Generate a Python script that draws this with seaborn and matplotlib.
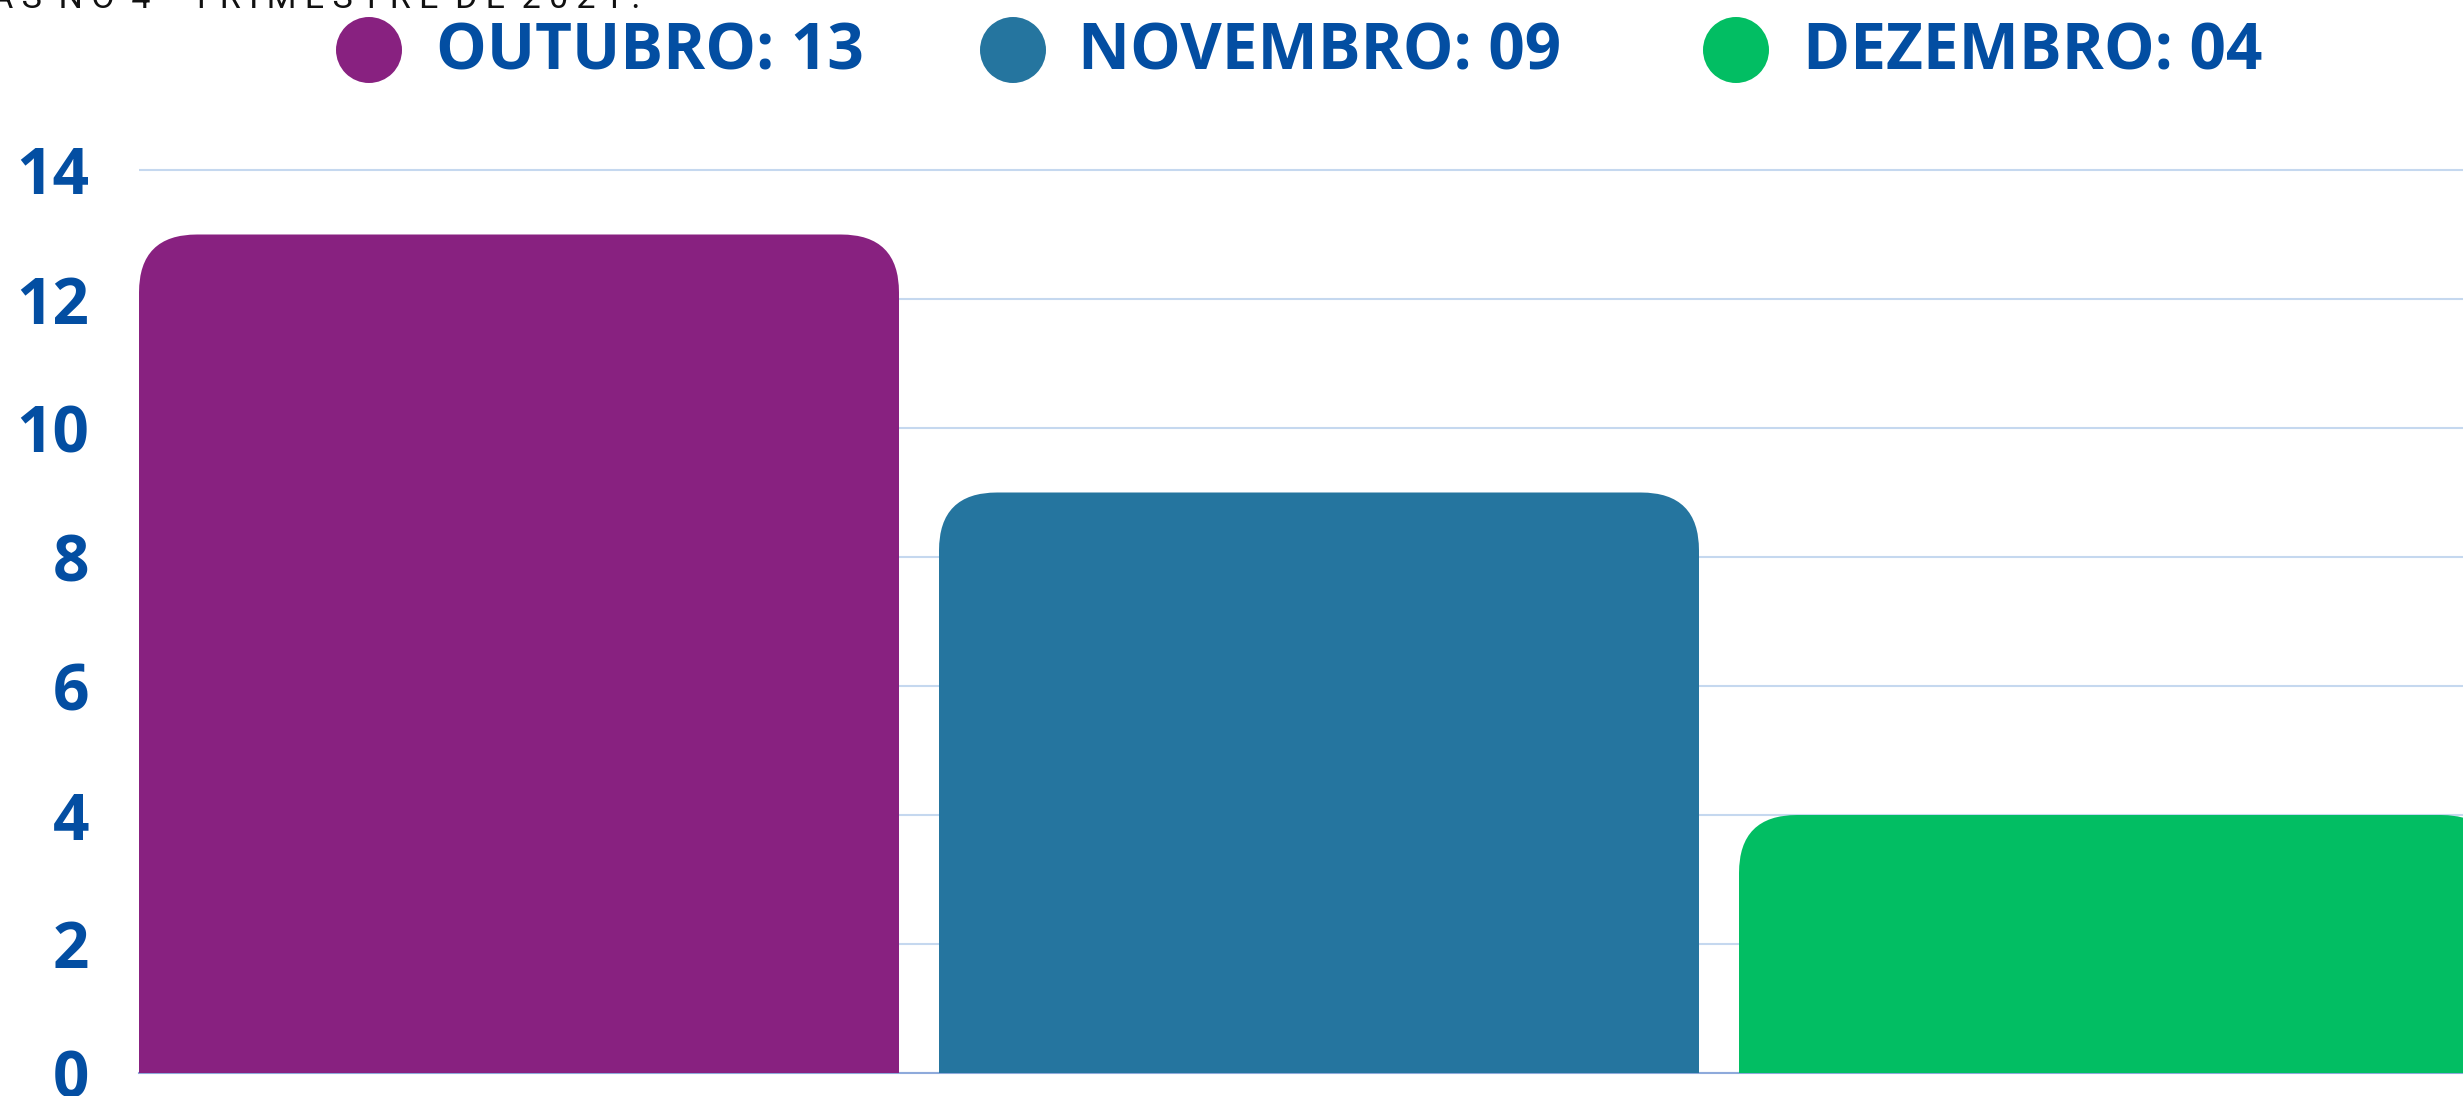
import matplotlib
matplotlib.use("Agg")
import matplotlib.pyplot as plt
from matplotlib.patches import FancyBboxPatch, Circle
import seaborn as sns
import pandas as pd

# ---- data ----
meses = ["Outubro", "Novembro", "Dezembro"]
processos = [13, 9, 4]
legenda = ["OUTUBRO: 13", "NOVEMBRO: 09", "DEZEMBRO: 04"]
cores = ["#882180", "#25759F", "#02BE63"]
yticks = [0, 2, 4, 6, 8, 10, 12, 14]
titulo = "AS NO 4º TRIMESTRE DE 2021."

W, H = 2463, 1096
sns.set_theme(style="white")
plt.rcParams["font.family"] = ["Open Sans", "DejaVu Sans"]

fig = plt.figure(figsize=(W / 100, H / 100), dpi=100)

ax_left, ax_bottom_px = 139, 1073
unit = (1073 - 170) / 14.0
ytop = 14.5
ax_h = ytop * unit
ax = fig.add_axes([ax_left / W, (H - ax_bottom_px) / H, (W - ax_left) / W, ax_h / H])

df = pd.DataFrame({"mes": meses, "n": processos})
sns.barplot(data=df, x="mes", y="n", hue="mes", palette=cores, legend=False,
            width=0.95, saturation=1, ax=ax, order=meses, hue_order=meses)

# replace bars with rounded-top bars
xunit = 800.0
r_px = 58
r_x = r_px / xunit
aspect = (r_px / unit) / r_x
for p in list(ax.patches):
    x0, w, h = p.get_x(), p.get_width(), p.get_height()
    fc = p.get_facecolor()
    p.remove()
    fb = FancyBboxPatch((x0, -3), w, h + 3,
                        boxstyle=f"round,pad=0,rounding_size={r_x}",
                        mutation_aspect=aspect, facecolor=fc, edgecolor="none",
                        zorder=2)
    ax.add_patch(fb)

ax.set_xlim(-0.475, -0.475 + (W - ax_left) / xunit)
ax.set_ylim(0, ytop)
ax.set_yticks(yticks)
ax.set_yticklabels([str(t) for t in yticks])
ax.set_xticks([])
ax.set_xlabel("")
ax.set_ylabel("")
ax.yaxis.grid(True, color="#C5D8EF", linewidth=1.5, zorder=0)
ax.set_axisbelow(True)
for s in ["top", "right", "left"]:
    ax.spines[s].set_visible(False)
ax.spines["bottom"].set_color("#8EAADB")
ax.spines["bottom"].set_linewidth(1.5)
ax.spines["bottom"].set_zorder(1)
ax.tick_params(axis="y", length=0, pad=36, labelsize=46, labelcolor="#034EA2")
for lab in ax.get_yticklabels():
    lab.set_fontweight("bold")

# legend (circles + labels)
def fx(px):
    return px / W
def fy(py):
    return 1 - py / H

circ_x = [369, 1013, 1736]
text_x = [436, 1078, 1803]
for cx, tx, c, lab in zip(circ_x, text_x, cores, legenda):
    fig.add_artist(Circle((cx / 100, (H - 50) / 100), 0.33,
                          transform=fig.dpi_scale_trans,
                          facecolor=c, edgecolor="none"))
    fig.text(fx(tx), fy(53), lab, ha="left", va="center", fontsize=46,
             fontweight="bold", color="#034EA2")

# cropped title at top
fig.text(fx(640), fy(8), "  ".join(" ".join(w) for w in titulo.split(" ")),
         ha="right", va="baseline", fontsize=24.5, color="#111111",
         family=["Roboto", "DejaVu Sans"])

fig.savefig("out.png", dpi=100)
